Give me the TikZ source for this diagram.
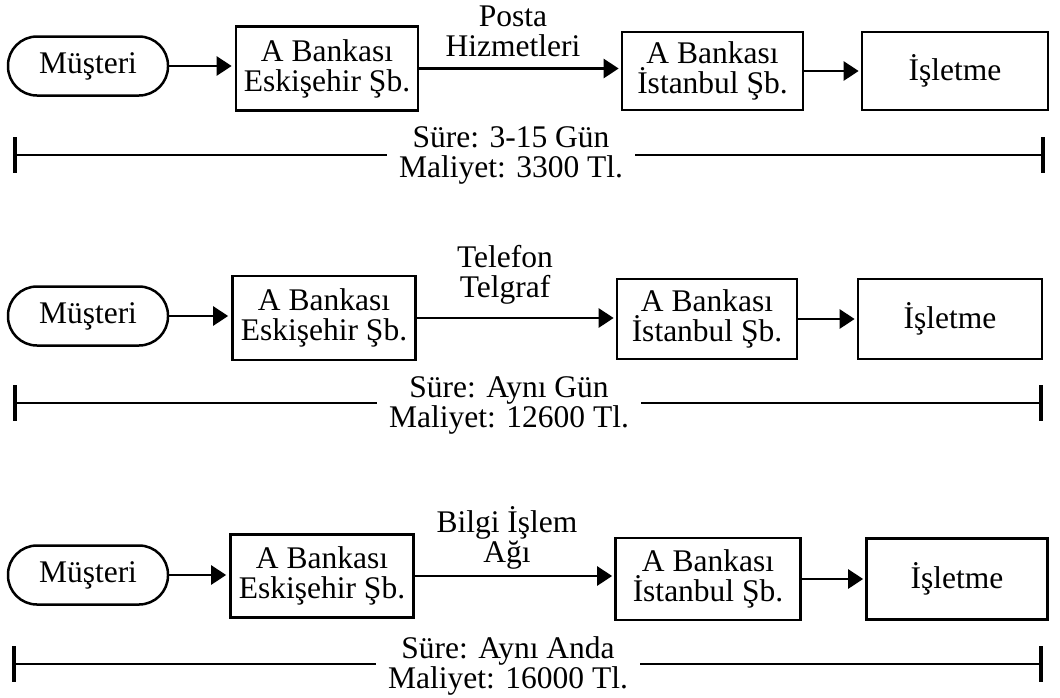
\documentclass[tikz,border=0pt]{standalone}
\usepackage{fontspec}
\setmainfont{Liberation Serif}
\usetikzlibrary{arrows.meta}
\begin{document}
\begin{tikzpicture}[x=1pt,y=-1pt,
  every node/.style={font=\fontsize{31.5}{30}\selectfont},
  pill/.style={draw, line width=2.5pt, rounded corners=29pt, minimum width=160pt,
    minimum height=59pt, inner sep=0pt},
  bank/.style={draw, line width=2.7pt, align=center, inner sep=0pt},
  flow/.style={line width=2.7pt, -{Triangle[length=15pt,width=19pt]}},
  lab/.style={align=center, inner sep=0pt},
  cost/.style={align=center, inner xsep=12pt, inner ysep=0pt, anchor=north},
  span/.style={line width=2.5pt},
  tick/.style={line width=3.2pt},
]
\useasboundingbox (0,0) rectangle (1060,697);

% ---- row 1: postal service ----
\node[pill] (m1) at (88,66) {Müşteri};
\node[bank, minimum width=182pt, minimum height=84pt] (e1) at (327,68.5) {A Bankası\\Eskişehir Şb.};
\node[bank, minimum width=181pt, minimum height=78pt] (i1) at (712.5,71) {A Bankası\\İstanbul Şb.};
\node[bank, minimum width=186pt, minimum height=78pt] (s1) at (955,71) {İşletme};
\draw[flow, shorten >=3pt] (m1.east) -- (m1.east -| e1.west);
\draw[flow, shorten >=2pt] (e1.east) -- (e1.east -| i1.west);
\draw[flow, shorten >=2pt] (i1.east) -- (s1.west);
\node[lab, anchor=south] (c1) at (513,57) {Posta\\Hizmetleri};
\coordinate (l1) at (15,155);
\coordinate (r1) at (1043,155);
\node[cost] (t1) at (511,126) {Süre: 3-15 Gün\\Maliyet: 3300 Tl.};
\draw[span] (l1) -- (l1 -| t1.west);
\draw[span] (t1.east |- r1) -- (r1);
\draw[tick] ([yshift=18pt]l1) -- ([yshift=-18pt]l1);
\draw[tick] ([yshift=18pt]r1) -- ([yshift=-18pt]r1);

% ---- row 2: telephone / telegraph ----
\node[pill] (m2) at (88,316) {Müşteri};
\node[bank, minimum width=183pt, minimum height=84pt] (e2) at (324,318) {A Bankası\\Eskişehir Şb.};
\node[bank, minimum width=180pt, minimum height=80pt] (i2) at (707,319) {A Bankası\\İstanbul Şb.};
\node[bank, minimum width=184pt, minimum height=80pt] (s2) at (950,319) {İşletme};
\draw[flow, shorten >=3pt] (m2.east) -- (m2.east -| e2.west);
\draw[flow, shorten >=2pt] (e2.east) -- (e2.east -| i2.west);
\draw[flow, shorten >=2pt] (i2.east) -- (s2.west);
\node[lab, anchor=south] (c2) at (505,304) {Telefon\\Telgraf};
\coordinate (l2) at (15,403);
\coordinate (r2) at (1041,403);
\node[cost] (t2) at (509,376) {Süre: Aynı Gün\\Maliyet: 12600 Tl.};
\draw[span] (l2) -- (l2 -| t2.west);
\draw[span] (t2.east |- r2) -- (r2);
\draw[tick] ([yshift=18pt]l2) -- ([yshift=-18pt]l2);
\draw[tick] ([yshift=18pt]r2) -- ([yshift=-18pt]r2);

% ---- row 3: data network ----
\node[pill] (m3) at (88,575) {Müşteri};
\node[bank, minimum width=183pt, minimum height=83pt] (e3) at (322,576) {A Bankası\\Eskişehir Şb.};
\node[bank, minimum width=185pt, minimum height=82pt] (i3) at (708,579) {A Bankası\\İstanbul Şb.};
\node[bank, minimum width=181pt, minimum height=81pt] (s3) at (957,579) {İşletme};
\draw[flow, shorten >=3pt] (m3.east) -- (m3.east -| e3.west);
\draw[flow, shorten >=2pt] (e3.east) -- (e3.east -| i3.west);
\draw[flow, shorten >=2pt] (i3.east) -- (s3.west);
\node[lab, anchor=south] (c3) at (507,569) {Bilgi İşlem\\Ağı};
\coordinate (l3) at (14,664);
\coordinate (r3) at (1041,664);
\node[cost] (t3) at (508,636) {Süre: Aynı Anda\\Maliyet: 16000 Tl.};
\draw[span] (l3) -- (l3 -| t3.west);
\draw[span] (t3.east |- r3) -- (r3);
\draw[tick] ([yshift=18pt]l3) -- ([yshift=-18pt]l3);
\draw[tick] ([yshift=18pt]r3) -- ([yshift=-18pt]r3);
\end{tikzpicture}
\end{document}
